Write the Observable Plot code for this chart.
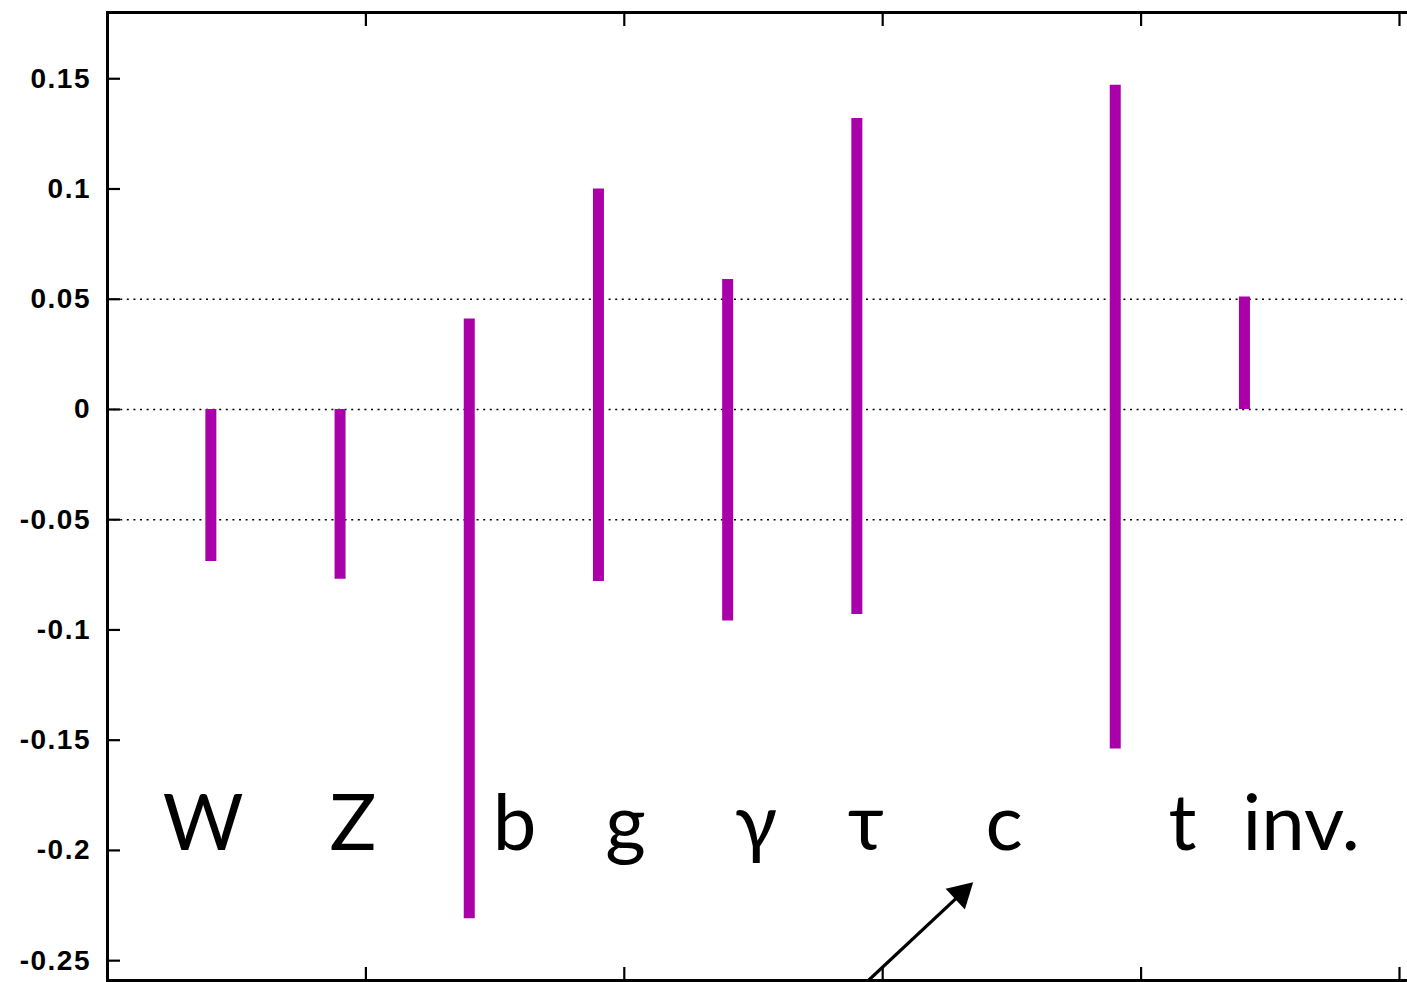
<!DOCTYPE html>
<html>
<head>
<meta charset="utf-8">
<script src="https://cdn.jsdelivr.net/npm/d3@7"></script>
<script src="https://cdn.jsdelivr.net/npm/@observablehq/plot@0.6"></script>
<style>
  html, body { margin: 0; padding: 0; background: #fff; overflow: hidden; }
  #chart svg { display: block; }
</style>
</head>
<body>
<div id="chart"></div>
<script>
// Error-bar ranges per channel
const channels = ["W", "Z", "b", "g", "γ", "τ", "t", "inv."];
const barX     = [0.4, 0.9, 1.4, 1.9, 2.4, 2.9, 3.9, 4.4];
const barLow   = [-0.069, -0.077, -0.231, -0.078, -0.096, -0.093, -0.154, 0.0];
const barHigh  = [0.0, 0.0, 0.041, 0.100, 0.059, 0.132, 0.147, 0.051];

// Large labels along the bottom
const labelText = ["W", "Z", "b", "g", "γ", "τ", "c", "t", "inv."];
const labelX    = [0.37, 0.95, 1.575, 2.005, 2.51, 2.935, 3.47, 4.16, 4.62];
const labelY    = -0.2;

// Axis ticks / grid
const yTicks = [0.15, 0.1, 0.05, 0, -0.05, -0.1, -0.15, -0.2, -0.25];
const yTickLabels = ["0.15", "0.1", "0.05", "0", "-0.05", "-0.1", "-0.15", "-0.2", "-0.25"];
const xTicks = [1, 2, 3, 4, 5];
const gridY = [0.05, 0, -0.05];

// Arrow annotation (tail, shaft end, tip)
const arrowTail = {x: 2.844, y: -0.27};
const arrowShaftEnd = {x: 3.305, y: -0.2195};
const arrowTip = {x: 3.350, y: -0.2145};

const bars = channels.map((c, i) => ({c, x: barX[i], lo: barLow[i], hi: barHigh[i]}));
const labels = labelText.map((t, i) => ({t, x: labelX[i], y: labelY}));

const color = "#aa00aa";

const chart = Plot.plot({
  width: 1407,
  height: 982,
  marginLeft: 107,
  marginRight: -4,
  marginTop: 12,
  marginBottom: 2,
  style: {background: "#fff", overflow: "hidden"},
  x: {domain: [0, 5.0465], axis: null, label: null},
  y: {domain: [-0.259, 0.18005], axis: null, label: null},
  marks: [
    Plot.ruleY(gridY, {stroke: "#000", strokeWidth: 1.6, strokeDasharray: "2,4.6"}),
    Plot.ruleX(bars, {x: "x", y1: "lo", y2: "hi", stroke: color, strokeWidth: 11}),
    Plot.text(labels, {x: "x", y: "y", text: "t", fontSize: 78, fontFamily: "Lato, 'Open Sans', sans-serif", lineAnchor: "bottom", fill: "#000"}),
    Plot.link([0], {x1: () => arrowTail.x, y1: () => arrowTail.y, x2: () => arrowShaftEnd.x, y2: () => arrowShaftEnd.y, stroke: "#000", strokeWidth: 3.3}),
    Plot.dot([0], {x: () => arrowTip.x, y: () => arrowTip.y, symbol: "triangle", r: 10.5, rotate: 47.1, dx: -11.9, dy: 11.1, fill: "#000", stroke: "none"}),
    // y-axis inward ticks
    Plot.axisY(yTicks, {anchor: "left", tickSize: -13, text: null, label: null, strokeWidth: 2.2}),
    // y-axis labels
    Plot.axisY(yTicks, {anchor: "left", tickSize: 0, tickPadding: 16.5, label: null, tickFormat: (d, i) => yTickLabels[i], fontSize: 28, fontWeight: "bold", fontFamily: "'Liberation Sans', Arial, sans-serif", fill: "#000"}),
    // x-axis inward ticks, top and bottom
    Plot.axisX(xTicks, {anchor: "top", tickSize: -13, text: null, label: null, strokeWidth: 2.2}),
    Plot.axisX(xTicks, {anchor: "bottom", tickSize: -13, text: null, label: null, strokeWidth: 2.2}),
    Plot.frame({stroke: "#000", strokeWidth: 3})
  ]
});
chart.querySelectorAll('g[aria-label="y-axis tick label"]').forEach(g => {
  g.style.letterSpacing = "1.5px";
});
document.getElementById("chart").appendChild(chart);
</script>
</body>
</html>
